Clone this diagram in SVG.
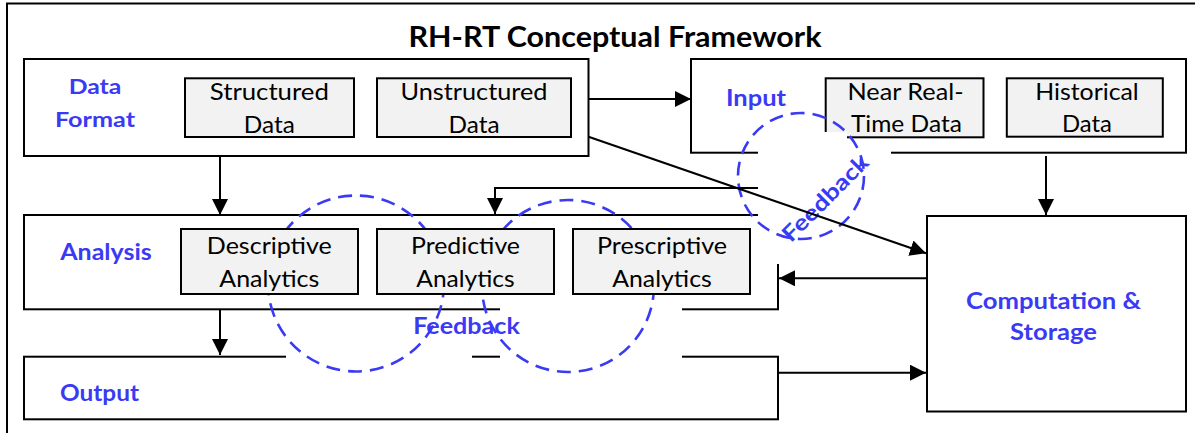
<svg xmlns="http://www.w3.org/2000/svg" width="1195" height="433" viewBox="0 0 1195 433">
<style>
.box{fill:#fff;stroke:#000;stroke-width:2}
.sub{fill:#f2f2f2;stroke:#000;stroke-width:2}
.t{font-family:Lato,"Open Sans","Liberation Sans",sans-serif;font-size:23px;fill:#000;text-anchor:middle}
.b{font-family:Lato,"Open Sans","Liberation Sans",sans-serif;font-size:22px;font-weight:bold;fill:#3a3af4;text-anchor:middle}
.title{font-family:Lato,"Open Sans","Liberation Sans",sans-serif;font-size:29px;font-weight:bold;fill:#000;text-anchor:middle}
.ln{fill:none;stroke:#000;stroke-width:2}
.dash{fill:none;stroke:#3a3af4;stroke-width:2.6;stroke-dasharray:14 8}
.mask{fill:#fff;stroke:none}
</style>
<defs>
<marker id="ah" markerUnits="userSpaceOnUse" markerWidth="17" markerHeight="17" refX="16" refY="8" orient="auto">
<path d="M0,0 L16,8 L0,16 z" fill="#000"/>
</marker>
</defs>
<rect x="0" y="0" width="1195" height="433" fill="#fff"/>
<g id="frame">
<rect x="7" y="3.5" width="1200" height="440" fill="#fff" stroke="#000" stroke-width="2"/>
<text class="title" x="615" y="47" textLength="413" lengthAdjust="spacingAndGlyphs">RH-RT Conceptual Framework</text>
</g>
<g id="data-format">
<rect class="box" x="24" y="59" width="564.5" height="97"/>
<text class="b" style="font-size:20px" x="95" y="93.5" textLength="52.7" lengthAdjust="spacingAndGlyphs">Data</text>
<text class="b" style="font-size:20px" x="95" y="126.7" textLength="80" lengthAdjust="spacingAndGlyphs">Format</text>
</g>
<g id="input">
<rect class="box" x="691" y="59" width="495" height="93.7"/>
<text class="b" x="756" y="106" textLength="60" lengthAdjust="spacingAndGlyphs">Input</text>
</g>
<g id="analysis">
<rect class="box" x="24" y="215" width="754" height="94.3"/>
<text class="b" x="106" y="260" textLength="91.5" lengthAdjust="spacingAndGlyphs">Analysis</text>
</g>
<g id="output">
<rect class="box" x="24" y="356.7" width="754" height="62.6"/>
<text class="b" x="99.5" y="400.7" textLength="79" lengthAdjust="spacingAndGlyphs">Output</text>
</g>
<g id="computation-storage">
<rect class="box" x="927" y="216" width="259" height="195.5"/>
<text class="b" x="1053.5" y="309" textLength="175" lengthAdjust="spacingAndGlyphs">Computation &amp;</text>
<text class="b" x="1053.5" y="340" textLength="87" lengthAdjust="spacingAndGlyphs">Storage</text>
</g>
<g id="masks-left">
<rect class="mask" x="286" y="318" width="186" height="60"/>
<rect class="mask" x="500" y="300" width="182" height="78"/>
</g>
<g id="feedback-loops-left">
<circle class="dash" cx="356" cy="283.5" r="88"/>
<circle class="dash" cx="568" cy="286" r="86"/>
</g>
<g id="structured-data">
<rect class="sub" x="185" y="78.3" width="169" height="58.7"/>
<text class="t" x="269.3" y="100" textLength="119" lengthAdjust="spacingAndGlyphs">Structured</text>
<text class="t" x="269.3" y="132.7" textLength="51" lengthAdjust="spacingAndGlyphs">Data</text>
</g>
<g id="unstructured-data">
<rect class="sub" x="377" y="78.3" width="194" height="58.7"/>
<text class="t" x="474" y="100" textLength="147" lengthAdjust="spacingAndGlyphs">Unstructured</text>
<text class="t" x="474" y="132.7" textLength="51" lengthAdjust="spacingAndGlyphs">Data</text>
</g>
<g id="near-real-time-data">
<rect class="sub" x="825.7" y="78.3" width="157.8" height="59"/>
<text class="t" x="905.5" y="100" textLength="116" lengthAdjust="spacingAndGlyphs">Near Real-</text>
<text class="t" x="906.4" y="131.7" textLength="111" lengthAdjust="spacingAndGlyphs">Time Data</text>
</g>
<g id="historical-data">
<rect class="sub" x="1006.8" y="78.3" width="156" height="58.4"/>
<text class="t" x="1087" y="100" textLength="103.5" lengthAdjust="spacingAndGlyphs">Historical</text>
<text class="t" x="1087" y="131.7" textLength="50" lengthAdjust="spacingAndGlyphs">Data</text>
</g>
<g id="descriptive-analytics">
<rect class="sub" x="181" y="229" width="177" height="65"/>
<text class="t" x="269.3" y="254" textLength="125" lengthAdjust="spacingAndGlyphs">Descriptive</text>
<text class="t" x="269.3" y="286.7" textLength="100" lengthAdjust="spacingAndGlyphs">Analytics</text>
</g>
<g id="predictive-analytics">
<rect class="sub" x="377" y="229" width="177" height="65"/>
<text class="t" x="465.5" y="254" textLength="109" lengthAdjust="spacingAndGlyphs">Predictive</text>
<text class="t" x="465.5" y="286.7" textLength="98.3" lengthAdjust="spacingAndGlyphs">Analytics</text>
</g>
<g id="prescriptive-analytics">
<rect class="sub" x="573" y="229" width="177" height="65"/>
<text class="t" x="662" y="254" textLength="130" lengthAdjust="spacingAndGlyphs">Prescriptive</text>
<text class="t" x="662" y="286.7" textLength="99.5" lengthAdjust="spacingAndGlyphs">Analytics</text>
</g>
<g id="mask-right">
<polygon class="mask" points="758,132 847,132 847,145 891,145 891,264 758,264"/>
</g>
<g id="feedback-loop-right">
<circle class="dash" cx="801" cy="176" r="63"/>
<text class="b" x="830.7" y="203.7" transform="rotate(-45 830.7 203.7)" textLength="112" lengthAdjust="spacingAndGlyphs">Feedback</text>
</g>
<g id="connectors">
<line class="ln" x1="588.5" y1="99" x2="691" y2="99" marker-end="url(#ah)"/>
<line class="ln" x1="220" y1="156" x2="220" y2="215" marker-end="url(#ah)"/>
<line class="ln" x1="220" y1="309.3" x2="220" y2="355" marker-end="url(#ah)"/>
<line class="ln" x1="1046" y1="156" x2="1046" y2="215" marker-end="url(#ah)"/>
<line class="ln" x1="588.5" y1="136.7" x2="926" y2="253.3" marker-end="url(#ah)"/>
<polyline class="ln" points="758,188 495,188 495,214" marker-end="url(#ah)"/>
<line class="ln" x1="927" y1="278.3" x2="779" y2="278.3" marker-end="url(#ah)"/>
<line class="ln" x1="778" y1="372.7" x2="926" y2="372.7" marker-end="url(#ah)"/>
</g>
<g id="feedback-label">
<text class="b" x="466.5" y="334" textLength="106.7" lengthAdjust="spacingAndGlyphs">Feedback</text>
</g>
</svg>
